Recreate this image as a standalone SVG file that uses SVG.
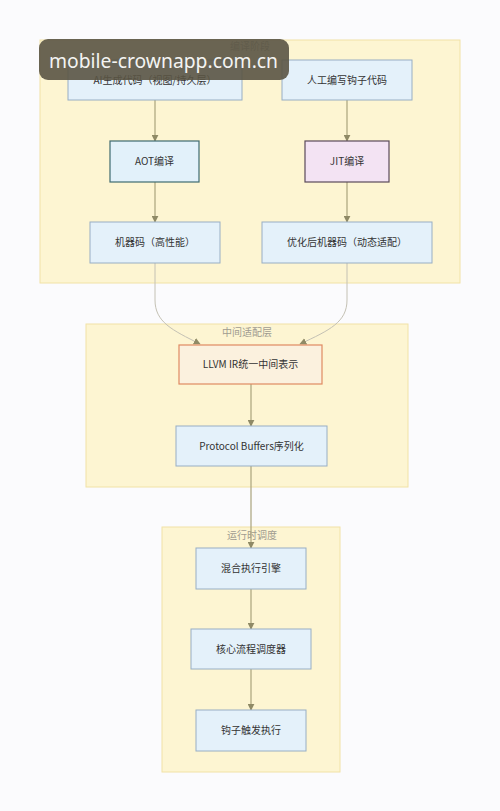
<svg xmlns="http://www.w3.org/2000/svg" width="500" height="811" viewBox="0 0 500 811">
<defs>
<marker id="ah" viewBox="0 0 10 10" refX="9" refY="5" markerWidth="7" markerHeight="7" orient="auto-start-reverse" markerUnits="userSpaceOnUse">
<path d="M0,0 L10,5 L0,10 z" fill="#8f8a66"/>
</marker>
<style>
.cl{fill:#fdf5d2;stroke:#f1e2a6;stroke-width:1}
.ct{font-family:"Noto Sans CJK SC","Noto Sans",sans-serif;font-size:10px;fill:#a09c90;text-anchor:middle}
.n{fill:#e4f1fa;stroke:#98aec4;stroke-width:1}
.t{font-family:"Noto Sans CJK SC","Noto Sans",sans-serif;font-size:10px;fill:#333;text-anchor:middle}
.e{fill:none;stroke:#aaa37c;stroke-width:1.2}
.c{fill:none;stroke:#c4c1b4;stroke-width:1}
</style>
</defs>
<rect width="500" height="811" fill="#fbfbfd"/>
<g id="cluster-compile">
<rect class="cl" x="40" y="40" width="420" height="243"/>
<text class="ct" x="250" y="50">编译阶段</text>
</g>
<g id="cluster-adapter">
<rect class="cl" x="86" y="324" width="322" height="163"/>
<text class="ct" x="247" y="336">中间适配层</text>
</g>
<g id="cluster-runtime">
<rect class="cl" x="162" y="527" width="178" height="245"/>
<text class="ct" x="252" y="539">运行时调度</text>
</g>
<g id="edges">
<path class="e" d="M155,100 L155,141" marker-end="url(#ah)"/>
<path class="e" d="M347,100 L347,141" marker-end="url(#ah)"/>
<path class="e" d="M155,182 L155,222" marker-end="url(#ah)"/>
<path class="e" d="M347,182 L347,222" marker-end="url(#ah)"/>
<path class="c" d="M155,263 L155,300 C155,322 172,330 200,344" marker-end="url(#ah)"/>
<path class="c" d="M347,263 L347,300 C347,322 330,330 300,344" marker-end="url(#ah)"/>
<path class="e" d="M251,384 L251,426" marker-end="url(#ah)"/>
<path class="e" d="M251,466 L251,548" marker-end="url(#ah)"/>
<path class="e" d="M251,589 L251,629" marker-end="url(#ah)"/>
<path class="e" d="M251,669 L251,710" marker-end="url(#ah)"/>
</g>
<g id="node-ai">
<rect class="n" x="68" y="60" width="174" height="40"/>
<text class="t" x="155" y="84">AI生成代码（视图/持久层）</text>
</g>
<g id="node-manual">
<rect class="n" x="282" y="60" width="130" height="40"/>
<text class="t" x="347" y="84">人工编写钩子代码</text>
</g>
<g id="node-aot">
<rect x="110" y="141" width="89" height="41" fill="#e2f1fa" stroke="#3f6b70" stroke-width="1.2"/>
<text class="t" x="154.5" y="165">AOT编译</text>
</g>
<g id="node-jit">
<rect x="305" y="141" width="84" height="41" fill="#f3e3f3" stroke="#5a4a5a" stroke-width="1.2"/>
<text class="t" x="347" y="165">JIT编译</text>
</g>
<g id="node-mc">
<rect class="n" x="90" y="222" width="130" height="41"/>
<text class="t" x="155" y="246">机器码（高性能）</text>
</g>
<g id="node-omc">
<rect class="n" x="262" y="222" width="170" height="41"/>
<text class="t" x="347" y="246">优化后机器码（动态适配）</text>
</g>
<g id="node-llvm">
<rect x="179" y="345" width="143" height="39" fill="#fbf1de" stroke="#df8a62" stroke-width="1.2"/>
<text class="t" x="250.5" y="368">LLVM IR统一中间表示</text>
</g>
<g id="node-pb">
<rect class="n" x="176" y="426" width="151" height="40"/>
<text class="t" x="251.5" y="450">Protocol Buffers序列化</text>
</g>
<g id="node-mix">
<rect class="n" x="196" y="548" width="110" height="41"/>
<text class="t" x="251" y="572">混合执行引擎</text>
</g>
<g id="node-core">
<rect class="n" x="191" y="629" width="120" height="40"/>
<text class="t" x="251" y="653">核心流程调度器</text>
</g>
<g id="node-hook">
<rect class="n" x="196" y="710" width="110" height="41"/>
<text class="t" x="251" y="734">钩子触发执行</text>
</g>
<g id="watermark">
<rect x="39" y="39" width="250" height="41" rx="9" fill="#5a5444" fill-opacity="0.9"/>
<text x="49" y="68" font-family="'Noto Sans','DejaVu Sans',sans-serif" font-size="19" fill="#f4f4f2" textLength="229" lengthAdjust="spacingAndGlyphs">mobile-crownapp.com.cn</text>
</g>
</svg>
